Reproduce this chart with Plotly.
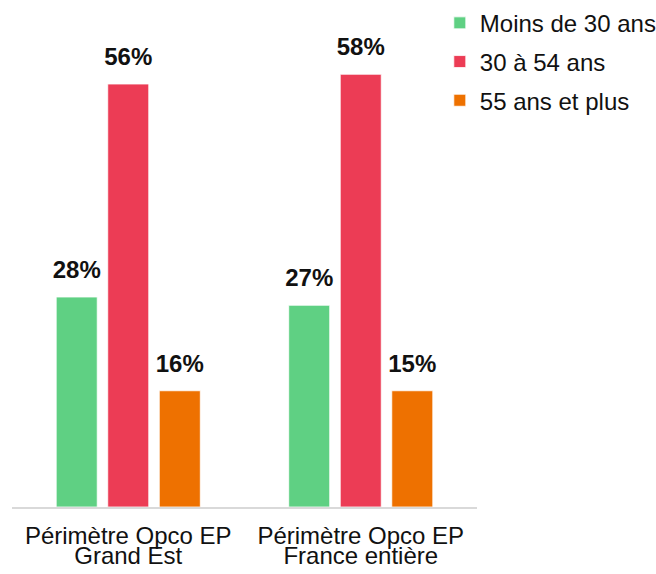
import plotly.graph_objects as go

categories = ["Périmètre Opco EP Grand Est", "Périmètre Opco EP France entière"]
tick_line1 = ["Périmètre Opco EP", "Périmètre Opco EP"]
tick_line2 = ["Grand Est", "France entière"]
series_names = ["Moins de 30 ans", "30 à 54 ans", "55 ans et plus"]
moins_30 = [28.0, 26.9]
de_30_54 = [56.4, 57.7]
plus_55 = [15.5, 15.5]
labels_moins_30 = ["28%", "27%"]
labels_30_54 = ["56%", "58%"]
labels_55 = ["16%", "15%"]
colors = ["#5FD083", "#EC3C55", "#EE7100"]
label_pad = 1.5  # gap between bar top and its label, in axis units

font_family = "Liberation Sans, Arial"

fig = go.Figure()
for i, (name, vals, labs, col) in enumerate(zip(series_names, [moins_30, de_30_54, plus_55],
                                                [labels_moins_30, labels_30_54, labels_55], colors)):
    fig.add_trace(go.Bar(
        x=categories, y=vals, name=name, offsetgroup=str(i),
        marker=dict(color=col, line=dict(color="white", width=0.8)),
        legendgroup=name, hoverinfo="y+name",
    ))
    # transparent spacer carrying the value label above each bar
    fig.add_trace(go.Bar(
        x=categories, y=[label_pad] * len(vals), base=vals, offsetgroup=str(i),
        marker=dict(color="rgba(0,0,0,0)", line=dict(width=0)), text=labs,
        textposition="outside", constraintext="none",
        textfont=dict(family=font_family, size=24, color="#111111", weight="bold"),
        cliponaxis=False, showlegend=False, hoverinfo="skip", legendgroup=name,
    ))

# invisible carrier for the second line of category labels
fig.add_trace(go.Scatter(x=categories, y=[0] * len(categories), xaxis="x2",
                         mode="none", showlegend=False, hoverinfo="skip"))

fig.update_layout(
    width=656, height=574,
    margin=dict(l=12, r=179, t=57, b=67, autoexpand=False),
    paper_bgcolor="white", plot_bgcolor="white",
    barmode="group", bargap=0.335, bargroupgap=0.204,
    font=dict(family=font_family, size=24, color="#111111"),
    showlegend=True,
    legend=dict(x=0.92, xanchor="left", y=1.125, yanchor="top",
                font=dict(size=24), tracegroupgap=4.5, traceorder="grouped",
                itemwidth=30, bgcolor="rgba(0,0,0,0)"),
    xaxis=dict(type="category", categoryorder="array", categoryarray=categories,
               tickmode="array", tickvals=categories, ticktext=tick_line1,
               showline=True, linecolor="#D9D9D9", linewidth=2, ticks="",
               showgrid=False, tickfont=dict(size=24), ticklabelstandoff=6),
    xaxis2=dict(type="category", categoryorder="array", categoryarray=categories,
                overlaying="x", matches="x", side="bottom",
                tickmode="array", tickvals=categories, ticktext=tick_line2,
                showline=False, ticks="", showgrid=False, zeroline=False,
                tickfont=dict(size=24), ticklabelstandoff=32),
    yaxis=dict(visible=False, range=[0, 60], showgrid=False),
)

fig.write_html("out.html", config={"displayModeBar": False},
               post_script="document.body.style.margin='0';")
